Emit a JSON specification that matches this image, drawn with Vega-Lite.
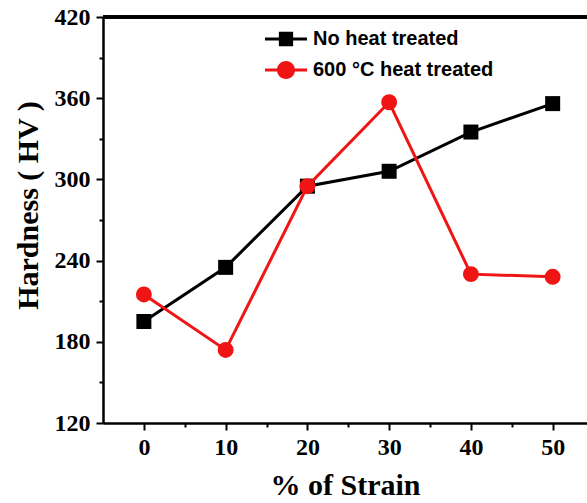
{
  "$schema": "https://vega.github.io/schema/vega-lite/v6.json",
  "autosize": {"type": "none"},
  "width": 484,
  "height": 406,
  "padding": {"left": 103, "top": 17, "right": 0, "bottom": 80},
  "background": "white",
  "config": {
    "view": {"stroke": null},
    "axis": {
      "domainColor": "black",
      "domainWidth": 2.5,
      "tickColor": "black",
      "tickWidth": 2,
      "labelFont": "Liberation Serif",
      "labelFontWeight": "bold",
      "labelFontSize": 24,
      "labelColor": "black",
      "titleFont": "Liberation Serif",
      "titleFontWeight": "bold",
      "titleFontSize": 30,
      "titleColor": "black",
      "grid": false
    }
  },
  "data": {
    "values": [
      {"strain": 0, "hardness": 195, "series": "No heat treated"},
      {"strain": 10, "hardness": 235, "series": "No heat treated"},
      {"strain": 20, "hardness": 295, "series": "No heat treated"},
      {"strain": 30, "hardness": 306, "series": "No heat treated"},
      {"strain": 40, "hardness": 335, "series": "No heat treated"},
      {"strain": 50, "hardness": 356, "series": "No heat treated"},
      {"strain": 0, "hardness": 215, "series": "600 °C heat treated"},
      {"strain": 10, "hardness": 174, "series": "600 °C heat treated"},
      {"strain": 20, "hardness": 295, "series": "600 °C heat treated"},
      {"strain": 30, "hardness": 357, "series": "600 °C heat treated"},
      {"strain": 40, "hardness": 230, "series": "600 °C heat treated"},
      {"strain": 50, "hardness": 228, "series": "600 °C heat treated"}
    ]
  },
  "encoding": {
    "x": {
      "field": "strain", "type": "quantitative",
      "scale": {"domain": [-5, 54.2], "nice": false, "zero": false},
      "axis": {
        "title": "% of Strain",
        "values": [0, 5, 10, 15, 20, 25, 30, 35, 40, 45, 50],
        "labelExpr": "datum.value % 10 === 0 ? datum.label : ''",
        "labelFontSize": 24,
        "labelFont": "Liberation Serif",
        "labelFontWeight": "bold",
        "tickSize": {"condition": {"test": "datum.value % 10 === 0", "value": 7}, "value": 4},
        "labelPadding": 5,
        "titlePadding": 11
      }
    },
    "y": {
      "field": "hardness", "type": "quantitative",
      "scale": {"domain": [120, 420], "nice": false, "zero": false},
      "axis": {
        "title": "Hardness ( HV )",
        "titleY": 188,
        "values": [120, 150, 180, 210, 240, 270, 300, 330, 360, 390, 420],
        "labelExpr": "datum.value % 60 === 0 ? datum.label : ''",
        "labelFontSize": 24,
        "labelFont": "Liberation Serif",
        "labelFontWeight": "bold",
        "tickSize": {"condition": {"test": "datum.value % 60 === 0", "value": 7}, "value": 4},
        "labelPadding": 6,
        "titlePadding": 11
      }
    },
    "color": {
      "field": "series", "type": "nominal",
      "scale": {"domain": ["No heat treated", "600 °C heat treated"], "range": ["black", "#f01515"]},
      "legend": {
        "title": null,
        "orient": "none",
        "legendX": 162,
        "legendY": 1,
        "padding": 0,
        "symbolSize": 1764,
        "rowPadding": -14,
        "labelOffset": 6,
        "labelFont": "Liberation Sans",
        "labelFontWeight": "bold",
        "labelFontSize": 20,
        "labelColor": "black",
        "labelLimit": 300,
        "encode": {
          "symbols": {
            "update": {
              "shape": {"signal": "datum.value === 'No heat treated' ? 'M-1,-0.07H1V0.07H-1Z M-0.34,-0.34H0.34V0.34H-0.34Z' : 'M-1,-0.07H1V0.07H-1Z M0.43,0A0.43,0.43 0 1,1 -0.43,0A0.43,0.43 0 1,1 0.43,0Z'"},
              "fill": {"scale": "color", "field": "value"},
              "stroke": {"value": "transparent"},
              "strokeWidth": {"value": 0},
              "opacity": {"value": 1}
            }
          }
        }
      }
    }
  },
  "layer": [
    {
      "transform": [{"filter": "datum.series === 'No heat treated'"}],
      "mark": {"type": "line", "strokeWidth": 3}
    },
    {
      "transform": [{"filter": "datum.series === 'No heat treated'"}],
      "mark": {"type": "point", "shape": "square", "filled": true, "size": 225, "opacity": 1}
    },
    {
      "transform": [{"filter": "datum.series === '600 °C heat treated'"}],
      "mark": {"type": "line", "strokeWidth": 3}
    },
    {
      "transform": [{"filter": "datum.series === '600 °C heat treated'"}],
      "mark": {"type": "point", "shape": "circle", "filled": true, "size": 254, "opacity": 1}
    },
    {
      "mark": {"type": "rule", "color": "black", "strokeWidth": 2.5},
      "encoding": {
        "x": {"datum": -5},
        "x2": {"datum": 54.2},
        "y": {"datum": 420},
        "color": {"value": "black"}
      }
    }
  ]
}
